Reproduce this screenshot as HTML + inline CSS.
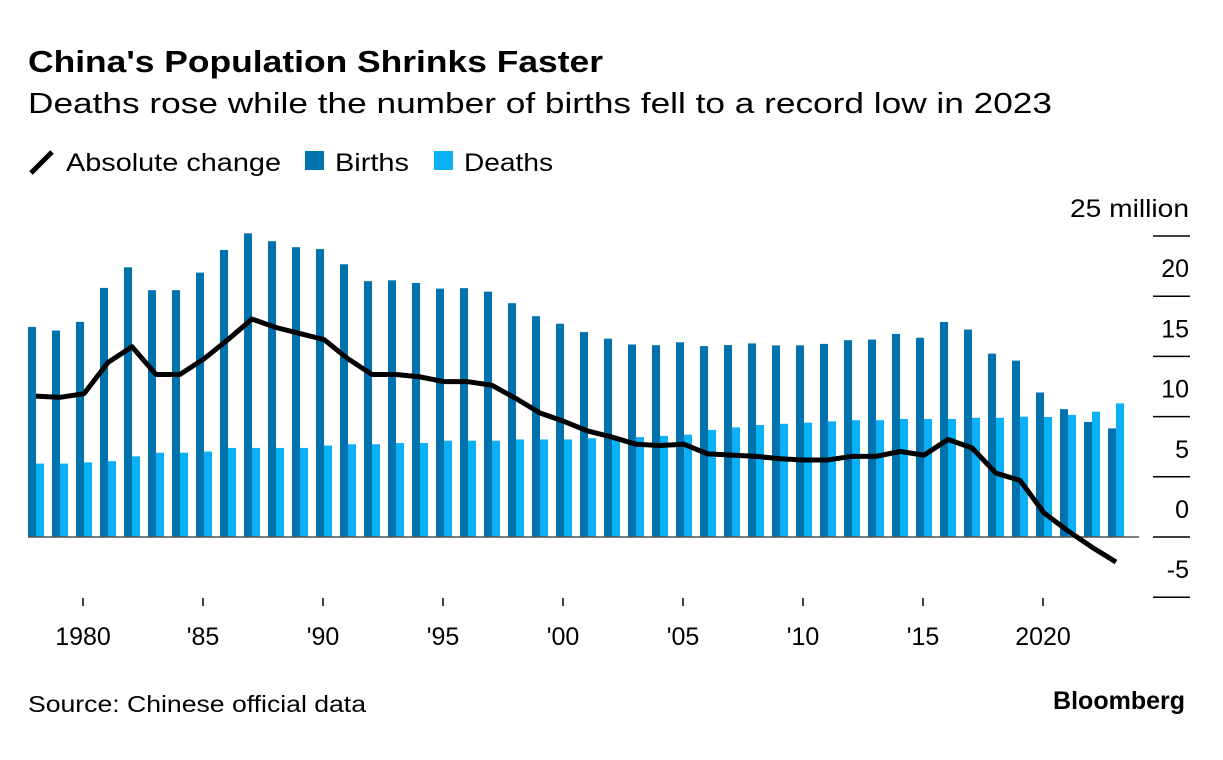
<!DOCTYPE html>
<html><head><meta charset="utf-8"><style>
body{margin:0;background:#fff;font-family:"Liberation Sans",sans-serif;}
svg{display:block}
</style></head><body>
<svg width="1223" height="760" font-family="Liberation Sans, sans-serif">
<text x="28" y="72" font-size="31" font-weight="bold" textLength="575" lengthAdjust="spacingAndGlyphs">China's Population Shrinks Faster</text>
<text x="28" y="113" font-size="29" textLength="1024" lengthAdjust="spacingAndGlyphs">Deaths rose while the number of births fell to a record low in 2023</text>
<g>
<line x1="31" y1="173" x2="52" y2="152" stroke="#000" stroke-width="5"/>
<text x="66" y="171" font-size="25" textLength="215" lengthAdjust="spacingAndGlyphs">Absolute change</text>
<rect x="305" y="151" width="19" height="19" fill="#0073ae"/>
<text x="335" y="171" font-size="25" textLength="74" lengthAdjust="spacingAndGlyphs">Births</text>
<rect x="434" y="151" width="19" height="19" fill="#0bb0f5"/>
<text x="464" y="171" font-size="25" textLength="89" lengthAdjust="spacingAndGlyphs">Deaths</text>
</g>
<g id="plot"></g>
<text x="28" y="712" font-size="23" textLength="338" lengthAdjust="spacingAndGlyphs">Source: Chinese official data</text>
<text x="1185" y="709" font-size="25" font-weight="bold" text-anchor="end">Bloomberg</text>
</svg>
<script>
const years=[];for(let y=1978;y<=2023;y++)years.push(y);
const births=[17.45,17.15,17.87,20.69,22.4,20.5,20.5,21.96,23.84,25.22,24.57,24.07,23.91,22.65,21.25,21.32,21.1,20.63,20.67,20.38,19.42,18.34,17.71,17.02,16.47,15.99,15.93,16.17,15.85,15.94,16.08,15.91,15.92,16.04,16.35,16.4,16.87,16.55,17.86,17.23,15.23,14.65,12.0,10.62,9.56,9.02];
const deaths=[6.1,6.1,6.2,6.3,6.7,7.0,7.0,7.1,7.4,7.4,7.4,7.4,7.6,7.7,7.7,7.8,7.8,8.0,8.0,8.0,8.1,8.1,8.1,8.2,8.2,8.3,8.4,8.5,8.9,9.1,9.3,9.4,9.5,9.6,9.7,9.7,9.8,9.8,9.8,9.9,9.9,10.0,9.97,10.14,10.41,11.1];
const change=[11.7,11.6,11.9,14.5,15.8,13.5,13.5,14.8,16.4,18.1,17.4,16.9,16.4,14.8,13.5,13.5,13.3,12.9,12.9,12.6,11.5,10.3,9.6,8.8,8.3,7.7,7.6,7.7,6.9,6.8,6.7,6.5,6.4,6.4,6.7,6.7,7.1,6.8,8.1,7.4,5.3,4.7,2.0,0.5,-0.85,-2.08];
const yTicks=[-5,0,5,10,15,20,25];
const yTickLabels=["-5","0","5","10","15","20","25 million"];
const xTicks=[1980,1985,1990,1995,2000,2005,2010,2015,2020];
const xTickLabels=["1980","'85","'90","'95","'00","'05","'10","'15","2020"];
const NS="http://www.w3.org/2000/svg";
const g=document.getElementById('plot');
const xS=y=>36+(y-1978)*24;
const yS=v=>537-v*12.04;
function mk(t,a){const e=document.createElementNS(NS,t);for(const k in a)e.setAttribute(k,a[k]);g.appendChild(e);return e;}
years.forEach((yr,i)=>{
  const c=xS(yr);
  let b=mk('rect',{x:c-8,y:yS(births[i]),width:8,height:yS(0)-yS(births[i]),fill:'#0073ae'});
  
  
  let d=mk('rect',{x:c,y:yS(deaths[i]),width:8,height:yS(0)-yS(deaths[i]),fill:'#0bb0f5'});
  
  
});
let bl=mk('line',{x1:28,x2:1139,y1:yS(0),y2:yS(0),stroke:'#555','stroke-width':1.5});


let pts=years.map((yr,i)=>xS(yr)+','+yS(change[i])).join(' ');
let pl=mk('polyline',{points:pts,fill:'none',stroke:'#000','stroke-width':5,'stroke-linejoin':'round'});


yTicks.forEach((v,i)=>{
  let l=mk('line',{x1:1153,x2:1190,y1:yS(v),y2:yS(v),stroke:'#000','stroke-width':1.5});
  
  
  let t=mk('text',{x:1189,y:yS(v)-19,'font-size':25,'text-anchor':'end'});
  if(i===yTicks.length-1){t.setAttribute('textLength',119);t.setAttribute('lengthAdjust','spacingAndGlyphs');}
  t.textContent=yTickLabels[i];
  
  
});
xTicks.forEach((yr,i)=>{
  let l=mk('line',{x1:xS(yr)-1,x2:xS(yr)-1,y1:598,y2:606,stroke:'#000','stroke-width':1.5});
  
  
  let t=mk('text',{x:xS(yr)-1,y:645,'font-size':25,'text-anchor':'middle'});
  t.textContent=xTickLabels[i];
  
  
});
</script>
</body></html>
